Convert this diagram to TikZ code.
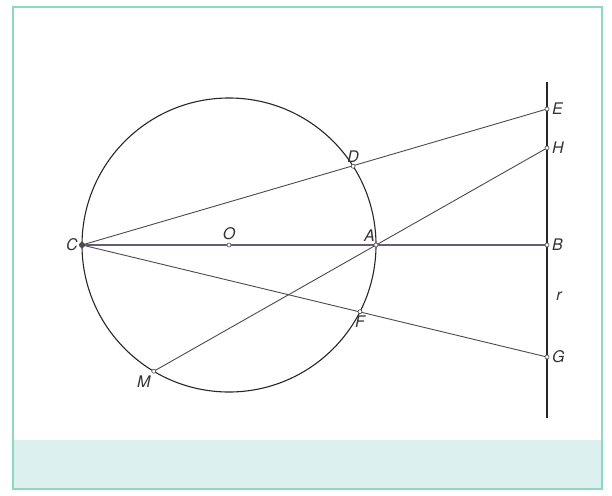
\documentclass[tikz,border=0pt]{standalone}
\usepackage{fontspec}
\setsansfont{TeX Gyre Heros}
\usetikzlibrary{calc, positioning}
\definecolor{framecol}{HTML}{8ED8BF}
\definecolor{bandcol}{HTML}{DDF0F0}
\definecolor{linecol}{HTML}{4A4A4A}
\definecolor{axiscol}{HTML}{6A5A7A}
\tikzset{
  ptmark/.style={circle, draw=linecol, fill=white, inner sep=0pt, minimum size=4pt, line width=0.6pt},
  lbl/.style={font=\sffamily\itshape\fontsize{16}{18}\selectfont, text=black!80, inner sep=1pt},
  seg/.style={linecol, line width=0.9pt},
  circ/.style={black!85, line width=1.1pt},
  ray/.style={black!85, line width=2.2pt},
}
\begin{document}
\begin{tikzpicture}[x=1pt, y=-1pt]

  % frame and band
  \useasboundingbox (0,0) rectangle (612,495);
  \fill[bandcol] (14,440) rectangle (602,489);
  \draw[framecol, line width=2.2pt] (13,7) rectangle (602,489);

  % points (y runs downwards)
  \coordinate (O) at (229,245);
  \coordinate (C) at ($(O)+(180:147)$);
  \coordinate (A) at ($(O)+(0:147)$);
  \coordinate (D) at ($(O)+(-32.4:147)$);
  \coordinate (F) at ($(O)+(27:147)$);
  \coordinate (M) at ($(O)+(120.8:147)$);
  \coordinate (E) at (547,109);
  \coordinate (H) at (547,148);
  \coordinate (B) at (547,245);
  \coordinate (G) at (547,357);
  \coordinate (top) at (547,82);
  \coordinate (bot) at (547,418);

  % circle and line r
  \draw[circ] (O) circle (147);
  \draw[ray] (top) -- (bot);

  % lines
  \draw[seg] (C) -- (E);
  \draw[seg] (C) -- (G);
  \draw[seg] (M) -- (H);
  \draw[axiscol, line width=1.1pt] (C) -- (B);

  % marks
  \foreach \p in {O,A,D,F,M,E,H,B,G}
    \node[ptmark] at (\p) {};
  \fill[linecol] (C) circle (3);

  % labels
  \node[lbl, left=3pt of C] (lC) {C};
  \node[lbl, above=4pt of O] (lO) {O};
  \node[lbl, above left=2pt and 0pt of A] (lA) {A};
  \node[lbl, above=3pt of D] (lD) {D};
  \node[lbl, below=3pt of F] (lF) {F};
  \node[lbl, below left=3pt and 2pt of M] (lM) {M};
  \node[lbl, right=4pt of E] (lE) {E};
  \node[lbl, right=4pt of H] (lH) {H};
  \node[lbl, right=4pt of B] (lB) {B};
  \node[lbl, right=4pt of G] (lG) {G};
  \node[lbl] (lr) at (559,296) {r};

\end{tikzpicture}
\end{document}
